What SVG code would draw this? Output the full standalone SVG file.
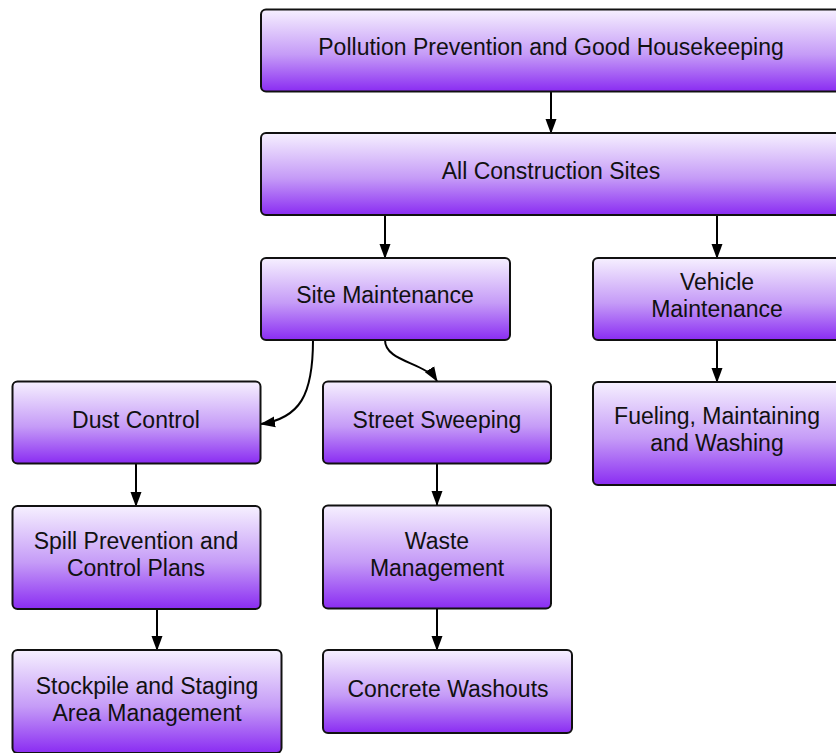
<svg xmlns="http://www.w3.org/2000/svg" width="836" height="753" viewBox="0 0 836 753">
<defs>
<linearGradient id="g" x1="0" y1="0" x2="0" y2="1">
<stop offset="0" stop-color="#f6f0ff"/>
<stop offset="0.55" stop-color="#c59bf7"/>
<stop offset="1" stop-color="#8a2cf2"/>
</linearGradient>
<marker id="ah" viewBox="0 0 15 12" refX="14" refY="6" markerWidth="15" markerHeight="12" markerUnits="userSpaceOnUse" orient="auto">
<path d="M0,0.5 L15,6 L0,11.5 z" fill="#000"/>
</marker>
</defs>
<style>
.box{fill:url(#g);stroke:#111;stroke-width:2}
text{font-family:"Liberation Sans",Arial,sans-serif;font-size:23px;fill:#111;text-anchor:middle}
.c{fill:none;stroke:#000;stroke-width:2;marker-end:url(#ah)}
</style>
<rect width="836" height="753" fill="#fff"/>
<g id="connectors">
<path class="c" d="M551 92 L551 133"/>
<path class="c" d="M385 215 L385 258"/>
<path class="c" d="M717 215 L717 258"/>
<path class="c" d="M717 340 L717 382"/>
<path class="c" d="M313 340 C313 395 300 418 261 424"/>
<path class="c" d="M385 340 C385 362 425 362 437 381"/>
<path class="c" d="M136 464 L136 506"/>
<path class="c" d="M157 609 L157 650"/>
<path class="c" d="M437 464 L437 505"/>
<path class="c" d="M437 609 L437 650"/>
</g>
<g id="n1"><rect class="box" x="261" y="9.5" width="580" height="82" rx="5"/><text x="551" y="55">Pollution Prevention and Good Housekeeping</text></g>
<g id="n2"><rect class="box" x="261" y="133" width="580" height="82" rx="5"/><text x="551" y="179">All Construction Sites</text></g>
<g id="n3"><rect class="box" x="261" y="258" width="249" height="82" rx="5"/><text x="385" y="303">Site Maintenance</text></g>
<g id="n4"><rect class="box" x="593" y="258" width="248" height="82" rx="5"/><text x="717" y="290">Vehicle</text><text x="717" y="317">Maintenance</text></g>
<g id="n5"><rect class="box" x="593" y="382" width="248" height="103" rx="5"/><text x="717" y="424">Fueling, Maintaining</text><text x="717" y="451">and Washing</text></g>
<g id="n6"><rect class="box" x="12.5" y="381.5" width="248" height="82" rx="5"/><text x="136" y="428">Dust Control</text></g>
<g id="n7"><rect class="box" x="323" y="381.5" width="228" height="82" rx="5"/><text x="437" y="428">Street Sweeping</text></g>
<g id="n8"><rect class="box" x="12.5" y="506" width="248" height="103" rx="5"/><text x="136" y="549">Spill Prevention and</text><text x="136" y="576">Control Plans</text></g>
<g id="n9"><rect class="box" x="323" y="505.5" width="228" height="103" rx="5"/><text x="437" y="549">Waste</text><text x="437" y="576">Management</text></g>
<g id="n10"><rect class="box" x="12.5" y="650" width="269" height="103" rx="5"/><text x="147" y="694">Stockpile and Staging</text><text x="147" y="721">Area Management</text></g>
<g id="n11"><rect class="box" x="323" y="650" width="249" height="83" rx="5"/><text x="448" y="697">Concrete Washouts</text></g>
</svg>
